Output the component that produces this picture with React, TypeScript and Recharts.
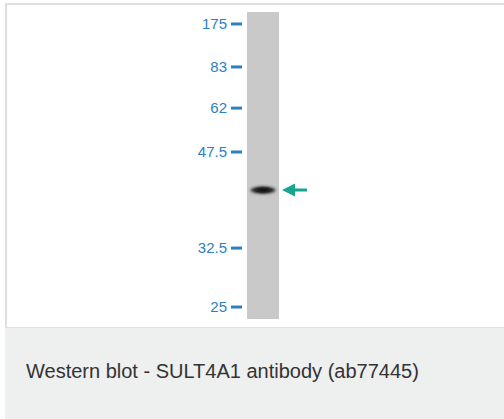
import { ComposedChart, Bar, Scatter, XAxis, YAxis } from 'recharts';

// marker ladder: kDa labels and relative migration (0 = top of lane, 1 = bottom)
const markerLabels = ['175', '83', '62', '47.5', '32.5', '25'];
const markerRf = [0.039, 0.179, 0.313, 0.456, 0.769, 0.961];

const lanes = ['SULT4A1'];
const laneLength = [1];
const bandRf = [0.58];

const caption = 'Western blot - SULT4A1 antibody (ab77445)';

const data = lanes.map((lane, i) => ({ lane, full: laneLength[i], band: bandRf[i] }));

const BLUE = '#2d7fbf';
const TEAL = '#17a592';

function MarkerTick(props: any) {
  const { x, y, payload } = props;
  return (
    <g>
      <text
        x={x - 20}
        y={y}
        dy="0.35em"
        textAnchor="end"
        fill={BLUE}
        fontSize={15}
        fontFamily="'Liberation Sans', Arial, sans-serif"
      >
        {markerLabels[payload.index]}
      </text>
      <line x1={x - 16} x2={x - 5} y1={y} y2={y} stroke={BLUE} strokeWidth={3} />
    </g>
  );
}

function BandShape(props: any) {
  const { cx, cy } = props;
  const ax = cx + 19;
  return (
    <g>
      <defs>
        <filter id="bandBlur" x="-50%" y="-100%" width="200%" height="300%">
          <feGaussianBlur stdDeviation="1.4" />
        </filter>
      </defs>
      <ellipse cx={cx} cy={cy} rx={12.5} ry={3.4} fill="#222" filter="url(#bandBlur)" />
      <ellipse cx={cx} cy={cy} rx={7} ry={2.2} fill="#111" filter="url(#bandBlur)" />
      <path
        d={`M${ax},${cy} L${ax + 13},${cy - 6.5} L${ax + 13},${cy - 1.5} L${ax + 25},${cy - 1.5} L${ax + 25},${cy + 1.5} L${ax + 13},${cy + 1.5} L${ax + 13},${cy + 6.5} Z`}
        fill={TEAL}
      />
    </g>
  );
}

export default function App() {
  return (
    <div
      style={{
        position: 'absolute',
        left: 0,
        top: 0,
        width: 504,
        height: 419,
        overflow: 'hidden',
        background: '#fff',
        fontFamily: "'Liberation Sans', Arial, sans-serif",
      }}
    >
      <div
        style={{
          position: 'absolute',
          left: 5,
          top: 3,
          width: 520,
          height: 324,
          boxSizing: 'border-box',
          borderTop: '2px solid #dedede',
          borderLeft: '2px solid #dedede',
          background: '#fff',
        }}
      />
      <div style={{ position: 'absolute', left: 0, top: 0 }}>
        <ComposedChart
          width={504}
          height={330}
          data={data}
          margin={{ top: 12, right: 225, bottom: 11, left: 0 }}
          barCategoryGap={0}
        >
          <XAxis dataKey="lane" type="category" hide />
          <YAxis
            type="number"
            domain={[0, 1]}
            reversed
            ticks={markerRf}
            interval={0}
            width={247}
            axisLine={false}
            tickLine={false}
            tickSize={0}
            tickMargin={0}
            tick={<MarkerTick />}
          />
          <Bar dataKey="full" fill="#c9c9c9" isAnimationActive={false} />
          <Scatter dataKey="band" shape={<BandShape />} isAnimationActive={false} />
        </ComposedChart>
      </div>
      <div
        style={{
          position: 'absolute',
          left: 5,
          top: 327,
          width: 520,
          height: 92,
          background: '#eeefef',
          borderTop: '1px solid #e2e2e2',
        }}
      >
        <div
          style={{
            position: 'absolute',
            left: 21,
            top: 32,
            fontSize: 20,
            color: '#333',
            whiteSpace: 'nowrap',
          }}
        >
          {caption}
        </div>
      </div>
    </div>
  );
}
